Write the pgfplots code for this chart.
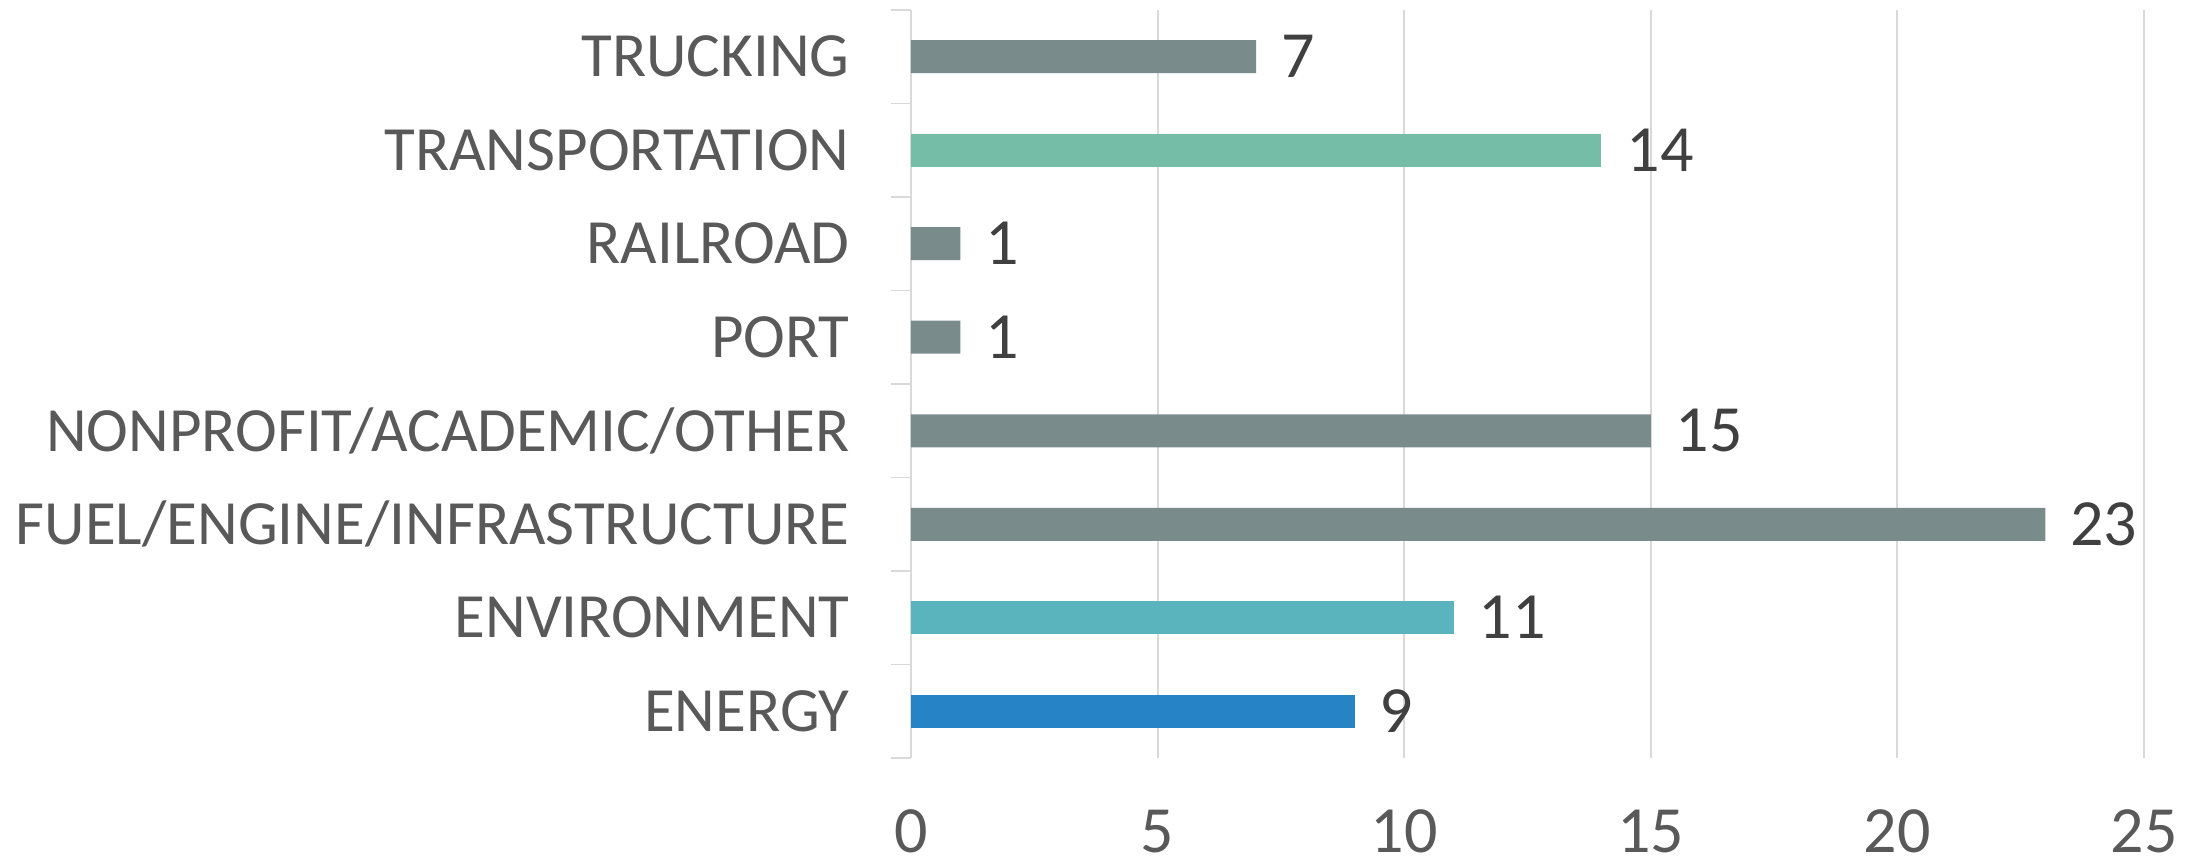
\documentclass[border=0pt]{standalone}
\usepackage{fontspec}
\setmainfont{Carlito}
\usepackage{pgfplots}
\pgfplotsset{compat=1.18}
\definecolor{cgrey}{HTML}{7A8B8B}
\definecolor{cgreen}{HTML}{75BDA7}
\definecolor{ccyan}{HTML}{59B4BD}
\definecolor{cblue}{HTML}{2683C6}
\definecolor{gridc}{HTML}{D9D9D9}
\definecolor{labc}{HTML}{595959}
\definecolor{valc}{HTML}{404040}
\begin{document}
\begin{tikzpicture}
\path[use as bounding box] (-455.5pt,-54.5pt) rectangle (646pt,379pt);
\begin{axis}[
  at={(0,0)}, anchor=south west,
  scale only axis, width=616.5pt, height=374pt,
  /pgf/number format/assume math mode=true,
  xbar, bar width=16.5pt,
  xmin=0, xmax=25, ymin=-0.5, ymax=7.5,
  xtick={0,5,...,25},
  ytick={0,...,7},
  yticklabels={ENERGY,ENVIRONMENT,FUEL/ENGINE/INFRASTRUCTURE,NONPROFIT/ACADEMIC/OTHER,PORT,RAILROAD,TRANSPORTATION,TRUCKING},
  ytick pos=left,
  extra y ticks={-0.5,0.5,...,7.5},
  extra y tick labels={},
  extra y tick style={major tick length=10pt, tick align=outside, tick style={draw=gridc, line width=0.8pt}, grid=none, ytick pos=left},
  major tick length=0pt,
  axis line style={draw=none},
  xmajorgrids, major grid style={draw=gridc, line width=1pt},
  xticklabel style={font=\fontsize{33pt}{36pt}\selectfont, text=labc, anchor=base, inner sep=0pt, yshift=-47pt},
  yticklabel style={font=\fontsize{31.5pt}{34pt}\selectfont, text=labc, anchor=east, inner sep=0pt, xshift=-30.5pt},
  nodes near coords,
  every node near coord/.append style={font=\fontsize{33pt}{36pt}\selectfont, text=valc, anchor=west, xshift=9pt},
  clip=false,
]
\draw[gridc, line width=1pt] (axis cs:0,-0.5) -- (axis cs:0,7.5);
\addplot[fill=cblue, draw=none, bar shift=0pt] coordinates {(9,0)};
\addplot[fill=ccyan, draw=none, bar shift=0pt] coordinates {(11,1)};
\addplot[fill=cgrey, draw=none, bar shift=0pt] coordinates {(23,2) (15,3) (1,4) (1,5) (7,7)};
\addplot[fill=cgreen, draw=none, bar shift=0pt] coordinates {(14,6)};
\end{axis}
\end{tikzpicture}
\end{document}
